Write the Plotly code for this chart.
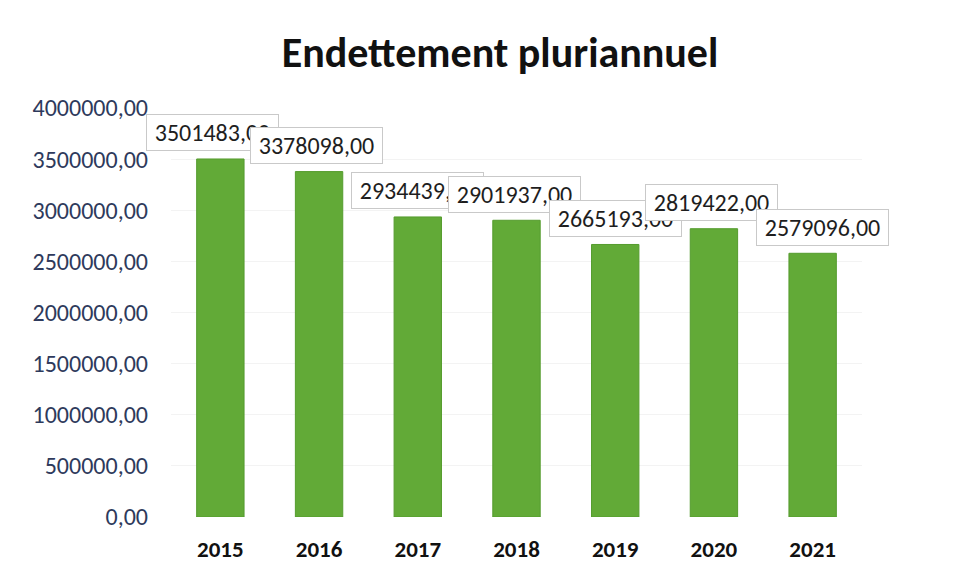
import plotly.graph_objects as go

# Encours de la dette au 31/12 de chaque exercice
years = ["2015", "2016", "2017", "2018", "2019", "2020", "2021"]
debt = [3501483, 3378098, 2934439, 2901937, 2665193, 2819422, 2579096]
label_dx = [-8, -3, 0, -2, 0, -2, 10]

y_ticks = [0, 500000, 1000000, 1500000, 2000000, 2500000, 3000000, 3500000, 4000000]


def fr_number(v):
    return f"{v:.2f}".replace(".", ",")


FONT = "Carlito, Lato, sans-serif"

fig = go.Figure(
    go.Bar(
        x=years,
        y=debt,
        marker=dict(color="#62aa37", line=dict(color="#559c2e", width=1)),
        width=0.48,
        hoverinfo="x+y",
    )
)

# Étiquettes de valeur encadrées, posées au-dessus de chaque barre
for i, (v, dx) in enumerate(zip(debt, label_dx)):
    fig.add_annotation(
        x=i,
        y=v,
        text=fr_number(v),
        showarrow=False,
        yshift=26,
        xshift=dx,
        width=123,
        height=27,
        align="center",
        valign="middle",
        font=dict(family=FONT, size=24, color="#1e1e1e"),
        bgcolor="white",
        bordercolor="#c9c9c9",
        borderwidth=1,
        borderpad=4,
    )

fig.update_layout(
    width=977,
    height=571,
    margin=dict(l=171, r=115, t=108, b=54),
    paper_bgcolor="white",
    plot_bgcolor="white",
    showlegend=False,
    title=dict(
        text="<b>Endettement pluriannuel</b>",
        x=500 / 977,
        xanchor="center",
        y=1 - 52 / 571,
        yanchor="middle",
        font=dict(family=FONT, size=42, color="#111111"),
    ),
    xaxis=dict(
        type="category",
        range=[-0.5, len(years) - 0.5],
        automargin=False,
        showline=False,
        ticks="",
        ticklabelstandoff=16,
        tickfont=dict(family=FONT, size=23, color="#111111", weight="bold"),
    ),
    yaxis=dict(
        range=[0, 4000000],
        automargin=False,
        tickvals=y_ticks,
        ticktext=[fr_number(t) for t in y_ticks],
        showgrid=True,
        gridcolor="#f3f3f3",
        zeroline=False,
        showline=False,
        ticks="",
        ticklabelstandoff=22,
        tickfont=dict(family=FONT, size=24, color="#2e3a5c"),
    ),
)

fig.write_html("out.html")
